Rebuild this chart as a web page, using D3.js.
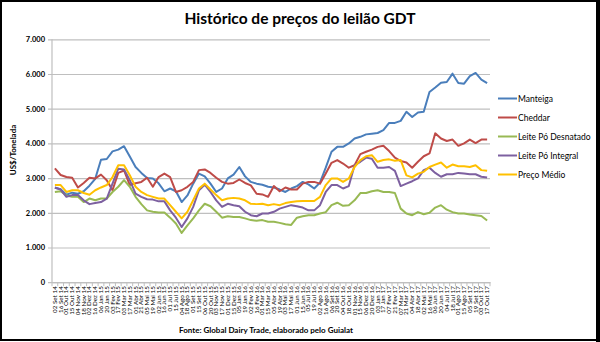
<!DOCTYPE html>
<html><head><meta charset="utf-8">
<script src="https://cdn.jsdelivr.net/npm/d3@7"></script>
<style>
body{margin:0;background:#fff;}
svg{display:block;font-family:Lato,"Open Sans",sans-serif;}
</style></head><body>
<svg id="c" width="600" height="342"></svg>
<script>
const dates = ["02 Set 14","16 Set 14","01 Out 14","15 Out 14","04 Nov 14","18 Nov 14","02 Dez 14","16 Dez 14",
"06 Jan 15","20 Jan 15","03 Fev 15","17 Fev 15","03 Mar 15","17 Mar 15","01 Abr 15","21 Abr 15","05 Mai 15","19 Mai 15","02 Jun 15","16 Jun 15","01 Jul 15","15 Jul 15","04 Ago 15","18 Ago 15","01 Set 15","15 Set 15","06 Out 15","20 Out 15","03 Nov 15","17 Nov 15","01 Dez 15","15 Dez 15",
"05 Jan 16","19 Jan 16","02 Fev 16","16 Fev 16","01 Mar 16","15 Mar 16","05 Abr 16","19 Abr 16","03 Mai 16","17 Mai 16","01 Jun 16","15 Jun 16","05 Jul 16","19 Jul 16","02 Ago 16","16 Ago 16","06 Set 16","20 Set 16","04 Out 16","18 Out 16","01 Nov 16","15 Nov 16","06 Dez 16","20 Dez 16",
"03 Jan 17","17 Jan 17","07 Fev 17","21 Fev 17","07 Mar 17","21 Mar 17","04 Abr 17","18 Abr 17","02 Mai 17","16 Mai 17","06 Jun 17","20 Jun 17","04 Jul 17","18 Jul 17","01 Ago 17","15 Ago 17","05 Set 17","19 Set 17","03 Out 17","17 Out 17"];

const manteiga = [2720,2680,2520,2580,2550,2620,2780,2980,3530,3550,3770,3820,3920,3620,3320,3150,3000,2990,2850,2620,2700,2620,2310,2500,2840,3130,3050,2840,2600,2700,2990,3100,3320,3050,2890,2840,2810,2750,2730,2670,2600,2700,2770,2890,2820,2700,2870,3300,3760,3900,3900,4000,4140,4190,4260,4280,4300,4380,4590,4590,4650,4910,4760,4890,4910,5480,5610,5750,5770,6010,5740,5720,5940,6030,5840,5740];
const cheddar = [3280,3090,3030,3010,2730,2860,3010,2990,3100,2940,2650,3150,3220,2800,2850,2890,3010,2750,3030,3130,3030,2600,2650,2750,2890,3230,3250,3150,3010,2890,2840,2860,2960,2860,2790,2550,2530,2460,2770,2620,2730,2670,2670,2840,2890,2890,2840,3130,3440,3520,3420,3300,3370,3690,3760,3820,3900,3930,3780,3590,3490,3450,3300,3470,3630,3710,4290,4140,4070,4110,3930,4000,4110,4010,4110,4110];
const desnatado = [2600,2620,2500,2460,2460,2310,2410,2360,2410,2410,2600,2750,2940,2750,2460,2250,2070,2030,2010,2010,1860,1690,1420,1640,1840,2070,2260,2190,2030,1860,1900,1880,1880,1840,1790,1770,1790,1740,1740,1710,1670,1650,1860,1900,1930,1930,1980,2020,2220,2290,2200,2220,2360,2570,2570,2620,2650,2600,2600,2570,2120,1980,1930,2020,1960,2000,2150,2220,2090,2020,1980,1980,1950,1930,1910,1780];
const integral = [2730,2670,2460,2510,2510,2360,2250,2280,2310,2410,2840,3270,3250,2940,2550,2460,2390,2380,2330,2330,2070,1860,1590,1840,2170,2650,2810,2600,2360,2170,2260,2220,2190,2030,1930,1900,1980,1980,2030,2120,2170,2220,2190,2150,2070,2070,2220,2600,2800,2800,2700,2770,3370,3470,3590,3560,3300,3300,3320,3210,2770,2840,2910,2990,3230,3300,3150,3040,3110,3110,3150,3130,3110,3110,3040,3020];
const medio = [2800,2800,2600,2650,2650,2570,2520,2650,2730,2800,3030,3370,3370,3080,2750,2600,2510,2460,2410,2410,2220,2030,1840,2030,2360,2700,2840,2670,2510,2360,2410,2430,2410,2360,2260,2250,2260,2220,2250,2220,2280,2310,2330,2340,2340,2340,2460,2800,2990,2990,2890,2990,3320,3520,3630,3660,3470,3520,3540,3500,3520,3080,3020,3130,3180,3320,3390,3450,3300,3390,3340,3340,3320,3370,3230,3210];

const seriesNames = ["Manteiga","Cheddar","Leite Pó Desnatado","Leite Pó Integral","Preço Médio"];
const seriesColors = ["#4A7EBB","#BE4B48","#98B954","#7D60A0","#FFC000"];
const seriesValues = [manteiga, cheddar, desnatado, integral, medio];
const yTicks = [0,1000,2000,3000,4000,5000,6000,7000];

const svg = d3.select("#c");
const L = 52, R = 490, T = 39.3, B = 282.2;

// frame
svg.append("rect").attr("x",1).attr("y",1).attr("width",597).attr("height",339)
  .attr("fill","none").attr("stroke","#000").attr("stroke-width",2);
svg.append("rect").attr("x",596).attr("y",0).attr("width",4).attr("height",342).attr("fill","#000");

svg.append("text").attr("x",300).attr("y",24).attr("text-anchor","middle")
  .attr("font-size",15.5).attr("font-weight","bold").attr("fill","#000")
  .text("Histórico de preços do leilão GDT");

const x = d3.scaleBand().domain(dates).range([L,R]).padding(0);
const y = d3.scaleLinear().domain([0,7000]).range([B,T]);
const fmt = v => d3.format(",")(v).replace(/,/g,".");

// gridlines + y axis
const yAxis = d3.axisLeft(y).tickValues(yTicks).tickSize(-(R-L)).tickFormat(fmt).tickPadding(7);
const gy = svg.append("g").attr("transform",`translate(${L},0)`).call(yAxis);
gy.select(".domain").remove();
gy.selectAll(".tick line").attr("stroke","#BFBFBF").attr("stroke-width",1.2).attr("x1",-4);
gy.selectAll(".tick text").attr("font-size",7.5).attr("font-weight","bold").attr("fill","#000")
  .attr("font-family","Lato,sans-serif");
svg.append("line").attr("x1",L).attr("x2",L).attr("y1",T).attr("y2",B).attr("stroke","#BFBFBF").attr("stroke-width",1.2);

// x axis
const xAxis = d3.axisBottom(x).tickSize(0).tickPadding(0);
const gx = svg.append("g").attr("transform",`translate(0,${B})`).call(xAxis);
gx.select(".domain").attr("stroke","#BFBFBF").attr("stroke-width",1.2);
gx.selectAll(".tick text").attr("font-size",6.3).attr("fill","#000").attr("font-family","Lato,sans-serif")
  .attr("text-anchor","end").attr("dy","0.32em")
  .attr("transform","translate(0,4) rotate(-90)");
// boundary ticks
const bounds = dates.map(d => x(d)).concat([R]);
svg.append("g").selectAll("line").data(bounds).join("line")
  .attr("x1",d=>d).attr("x2",d=>d).attr("y1",B).attr("y2",B+4)
  .attr("stroke","#BFBFBF").attr("stroke-width",1);

// lines
const line = d3.line().x((d,i)=>x(dates[i])+x.bandwidth()/2).y(d=>y(d));
seriesValues.forEach((vals,k)=>{
  svg.append("path").datum(vals).attr("d",line).attr("fill","none")
    .attr("stroke",seriesColors[k]).attr("stroke-width",2).attr("stroke-linejoin","round");
});

// legend
const lg = svg.append("g");
seriesNames.forEach((n,k)=>{
  const yy = 98.5 + k*19;
  lg.append("line").attr("x1",498).attr("x2",517).attr("y1",yy).attr("y2",yy)
    .attr("stroke",seriesColors[k]).attr("stroke-width",2);
  lg.append("text").attr("x",518).attr("y",yy+3).attr("font-size",8.5).attr("fill","#000").text(n);
});

// y title
svg.append("text").attr("transform","translate(16,150) rotate(-90)").attr("text-anchor","middle")
  .attr("font-size",8).attr("font-weight","bold").attr("fill","#000").text("US$/Tonelada");

// source
svg.append("text").attr("x",266).attr("y",333).attr("text-anchor","middle")
  .attr("font-size",8).attr("font-weight","bold").attr("fill","#000")
  .text("Fonte: Global Dairy Trade, elaborado pelo Guialat");
</script>
</body></html>
